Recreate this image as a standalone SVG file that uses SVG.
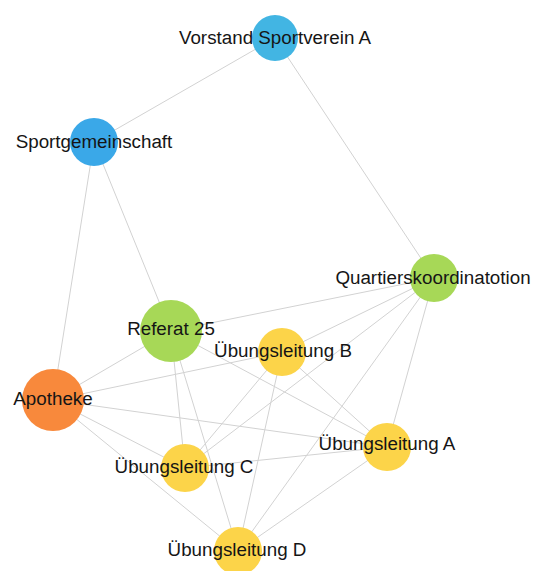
<svg xmlns="http://www.w3.org/2000/svg" width="539" height="571" viewBox="0 0 539 571">
<style>
.e{stroke:#d2d2d2;stroke-width:1;fill:none}
.lbl{font-family:"Liberation Sans",Arial,sans-serif;font-size:18.8px;fill:#151515;text-anchor:middle}
.blue1{fill:#42B5E3}
.blue2{fill:#3AA8E8}
.green{fill:#A7D857}
.orange{fill:#F8893C}
.yellow{fill:#FCD449}
</style>
<rect width="539" height="571" fill="#ffffff"/>
<g id="edges">
<line class="e" x1="275" y1="38" x2="94" y2="142"/>
<line class="e" x1="275" y1="38" x2="434" y2="278"/>
<line class="e" x1="94" y1="142" x2="171" y2="331"/>
<line class="e" x1="94" y1="142" x2="53" y2="400"/>
<line class="e" x1="171" y1="331" x2="434" y2="278"/>
<line class="e" x1="171" y1="331" x2="53" y2="400"/>
<line class="e" x1="171" y1="331" x2="387" y2="447"/>
<line class="e" x1="171" y1="331" x2="185" y2="468"/>
<line class="e" x1="171" y1="331" x2="238" y2="551"/>
<line class="e" x1="434" y1="278" x2="282" y2="352"/>
<line class="e" x1="434" y1="278" x2="185" y2="468"/>
<line class="e" x1="434" y1="278" x2="238" y2="551"/>
<line class="e" x1="434" y1="278" x2="387" y2="447"/>
<line class="e" x1="53" y1="400" x2="282" y2="352"/>
<line class="e" x1="53" y1="400" x2="387" y2="447"/>
<line class="e" x1="53" y1="400" x2="185" y2="468"/>
<line class="e" x1="53" y1="400" x2="238" y2="551"/>
<line class="e" x1="282" y1="352" x2="185" y2="468"/>
<line class="e" x1="282" y1="352" x2="238" y2="551"/>
<line class="e" x1="282" y1="352" x2="387" y2="447"/>
<line class="e" x1="185" y1="468" x2="387" y2="447"/>
<line class="e" x1="238" y1="551" x2="387" y2="447"/>
</g>
<g id="vorstand">
<circle class="blue1" cx="275" cy="38" r="23"/>
<text class="lbl" x="275" y="44">Vorstand Sportverein A</text>
</g>
<g id="sportgemeinschaft">
<circle class="blue2" cx="94" cy="142" r="24"/>
<text class="lbl" x="94" y="148">Sportgemeinschaft</text>
</g>
<g id="quartierskoordination">
<circle class="green" cx="434" cy="278" r="24"/>
<text class="lbl" x="433" y="284">Quartierskoordinatotion</text>
</g>
<g id="referat25">
<circle class="green" cx="171" cy="331" r="31"/>
<text class="lbl" x="171" y="335">Referat 25</text>
</g>
<g id="uebungsleitungB">
<circle class="yellow" cx="282" cy="352" r="24"/>
<text class="lbl" x="283" y="357">Übungsleitung B</text>
</g>
<g id="apotheke">
<circle class="orange" cx="53" cy="400" r="31"/>
<text class="lbl" x="53" y="405">Apotheke</text>
</g>
<g id="uebungsleitungA">
<circle class="yellow" cx="387" cy="447" r="24"/>
<text class="lbl" x="387" y="450">Übungsleitung A</text>
</g>
<g id="uebungsleitungC">
<circle class="yellow" cx="185" cy="468" r="24"/>
<text class="lbl" x="184" y="473">Übungsleitung C</text>
</g>
<g id="uebungsleitungD">
<circle class="yellow" cx="238" cy="551" r="24"/>
<text class="lbl" x="237" y="556">Übungsleitung D</text>
</g>
</svg>
